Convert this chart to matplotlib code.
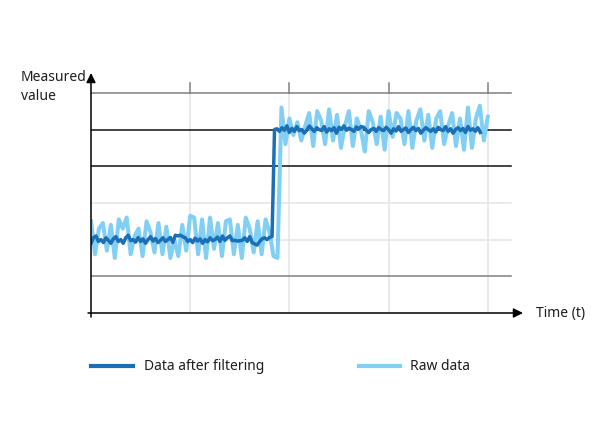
import numpy as np
import matplotlib
matplotlib.use('Agg')
import matplotlib.pyplot as plt
from matplotlib.lines import Line2D

# raw sensor readings, sampled every 0.04 time units from t=0 to t=4
raw_low = [2.5, 1.6, 2.3, 2.45, 1.7, 2.4, 1.5, 2.55, 2.3, 2.6,
           1.6, 2.1, 2.3, 1.55, 2.5, 2.2, 1.65, 2.45, 1.6, 2.35,
           1.5, 2.0, 1.55, 2.4, 1.7, 2.65, 2.6, 1.6, 2.55, 1.5,
           2.6, 1.75, 2.45, 1.55, 2.5, 2.55, 1.6, 2.4, 1.5, 2.6,
           2.3, 1.65, 2.5, 1.6, 2.55, 2.2, 1.55, 1.5]
raw_high = [5.6, 4.6, 5.3, 4.85, 5.2, 4.7, 5.1, 5.45, 4.55, 5.5,
            5.25, 4.6, 5.55, 4.7, 5.4, 4.5, 5.1, 5.5, 4.55, 5.3,
            5.0, 4.4, 5.5, 5.2, 4.6, 5.35, 4.45, 5.5, 4.8, 5.45,
            5.3, 4.6, 5.5, 4.5, 5.25, 5.55, 4.7, 5.4, 4.5, 5.3,
            5.5, 4.6, 5.1, 5.45, 4.55, 5.3, 4.45, 5.6, 4.5, 5.3,
            5.65, 4.7, 5.35]

# filtered signal, sampled every 0.025 time units, ends slightly earlier
filt_low = [1.9, 2.05, 2.1, 1.95, 2.0, 1.92, 2.05, 1.98, 1.9, 2.02,
            2.08, 1.95, 2.0, 1.9, 2.05, 2.12, 1.97, 2.0, 1.93, 2.06,
            1.95, 2.02, 1.9, 2.0, 2.08, 1.96, 2.03, 1.92, 1.98, 2.05,
            1.95, 2.0, 2.06, 1.92, 2.12, 2.1, 2.12, 2.08, 2.05, 1.95,
            2.0, 1.92, 2.04, 1.96, 2.02, 1.9, 2.0, 1.94, 2.05, 1.97,
            2.0, 2.07, 1.95, 2.1, 1.98, 2.05, 2.1, 1.97, 1.98, 1.96,
            1.97, 1.98, 2.05, 1.95, 2.08, 1.92, 1.88, 1.85, 1.95, 2.02,
            2.05, 2.0, 2.06, 2.08]
filt_high = [5.0, 5.02, 4.95, 5.05, 4.98, 5.1, 4.92, 5.03, 4.95, 5.08,
             4.97, 5.0, 4.9, 4.98, 5.1, 5.02, 4.95, 5.05, 5.0, 4.97,
             5.08, 4.93, 5.02, 4.97, 5.05, 4.9, 5.06, 5.0, 5.1, 4.98,
             5.04, 5.0, 4.95, 5.07, 5.02, 5.08, 5.06, 4.98, 4.92, 5.0,
             5.03, 4.95, 5.05, 5.0, 4.97, 5.06, 5.0, 4.9, 5.02, 4.96,
             5.08, 4.95, 5.0, 5.04, 4.92, 5.0, 5.06, 4.97, 5.03, 4.9,
             4.98, 5.05, 5.0, 4.95, 5.02, 4.93, 5.06, 5.0, 4.97, 5.08,
             4.95, 5.02, 4.9, 5.0, 5.05, 4.97, 5.03, 4.92, 5.08, 4.98,
             5.02, 4.95, 5.05, 4.92]

raw = np.array(raw_low + raw_high)
filt = np.array(filt_low + filt_high)
t_raw = np.arange(len(raw)) * 0.04
t_filt = np.arange(len(filt)) * 0.025

legend_labels = ['Data after filtering', 'Raw data']
x_label = 'Time (t)'
y_label = 'Measured\nvalue'

c_filt = '#1b6fb6'
c_raw = '#82cff5'
c_text = '#1e1e1e'

plt.rcParams['font.family'] = ['Noto Sans', 'DejaVu Sans']

W, H = 600, 440
fig = plt.figure(figsize=(6, 4.4), dpi=100)
ax = fig.add_axes([91 / W, 1 - 313 / H, (523 - 91) / W, (313 - 73) / H])
ax.set_xlim(0, 4.355)
ax.set_ylim(0, 6.54)
ax.axis('off')

# horizontal reference lines
h_styles = {1: '#808080', 2: '#e4e4e4', 3: '#e4e4e4', 4: '#111111', 5: '#111111', 6: '#808080'}
for lvl, col in h_styles.items():
    ax.plot([0, 4.23], [lvl, lvl], color=col, lw=1.1, zorder=1)

# vertical grid and top ticks
for xv in [1, 2, 3, 4]:
    ax.plot([xv, xv], [0, 6], color='#e4e4e4', lw=1.1, zorder=0.5)
    ax.plot([xv, xv], [6, 6.27], color='#808080', lw=1.1, zorder=1, clip_on=False)

ax.plot(t_raw, raw, color=c_raw, lw=2.9, zorder=2, solid_joinstyle='round')
ax.plot(t_filt, filt, color=c_filt, lw=2.5, zorder=3, solid_joinstyle='round')

# axes with arrows
ax.annotate('', xy=(4.355, 0), xytext=(-0.03, 0),
            arrowprops=dict(arrowstyle='-|>', color='black', lw=1.1,
                            mutation_scale=14, shrinkA=0, shrinkB=0),
            annotation_clip=False, zorder=4)
ax.annotate('', xy=(0, 6.54), xytext=(0, -0.11),
            arrowprops=dict(arrowstyle='-|>', color='black', lw=1.1,
                            mutation_scale=14, shrinkA=0, shrinkB=0),
            annotation_clip=False, zorder=4)

fig.text(21 / W, 1 - 87 / H, y_label, ha='left', va='center', fontsize=10,
         color=c_text, linespacing=1.35)
fig.text(536 / W, 1 - 313 / H, x_label, ha='left', va='center', fontsize=10,
         color=c_text)

# legend drawn by hand
leg_y = 1 - 366 / H
fig.add_artist(Line2D([91 / W, 133 / W], [leg_y, leg_y], color=c_filt, lw=3))
fig.text(144 / W, leg_y, legend_labels[0], ha='left', va='center', fontsize=10, color=c_text)
fig.add_artist(Line2D([359 / W, 400 / W], [leg_y, leg_y], color=c_raw, lw=3))
fig.text(410 / W, leg_y, legend_labels[1], ha='left', va='center', fontsize=10, color=c_text)

fig.savefig('out.png', dpi=100)
